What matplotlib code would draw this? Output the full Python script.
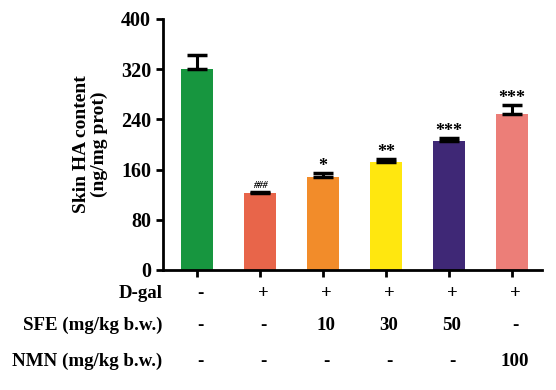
import matplotlib.pyplot as plt

# data
groups = ['Control', 'Model', 'SFE10', 'SFE30', 'SFE50', 'NMN100']
means = [320, 122, 148, 172, 206, 249]
errs = [22, 3, 7, 4, 4, 13]
marks = ['', '###', '*', '**', '***', '***']
colors = ['#17963F', '#E8654A', '#F28C2A', '#FFE70F', '#3F2876', '#EC7E78']

row_names = ['D-gal', 'SFE (mg/kg b.w.)', 'NMN (mg/kg b.w.)']
rows = [['-', '+', '+', '+', '+', '+'],
        ['-', '-', '10', '30', '50', '-'],
        ['-', '-', '-', '-', '-', '100']]

plt.rcParams['font.family'] = ['Liberation Serif', 'DejaVu Serif']
plt.rcParams['font.weight'] = 'bold'

fig = plt.figure(figsize=(5.56, 3.9), dpi=100)
ax = fig.add_axes([0.293, 0.3077, 0.682, 0.644])

x = list(range(len(groups)))
ax.bar(x, means, width=0.5, color=colors)
ax.errorbar(x, means, yerr=[[0] * len(errs), errs], fmt='none',
            ecolor='black', elinewidth=2.2, capsize=7, capthick=2.5)

for i in x:
    top = means[i] + errs[i]
    if marks[i] == '###':
        ax.text(i, top + 2, marks[i], ha='center', va='bottom', fontsize=7,
                style='italic')
    elif marks[i]:
        ax.text(i, top - 3, marks[i], ha='center', va='bottom', fontsize=13)

ax.set_xlim(-0.54, 5.48)
ax.set_ylim(0, 400)
ax.set_yticks([0, 80, 160, 240, 320, 400])
ax.set_xticks(x)
ax.set_xticklabels([])
ax.spines['top'].set_visible(False)
ax.spines['right'].set_visible(False)
ax.spines['left'].set_linewidth(2)
ax.spines['bottom'].set_linewidth(2)
ax.tick_params(axis='both', direction='out', length=5, width=2, labelsize=14.5)
ax.set_ylabel('Skin HA content\n(ng/mg prot)', fontsize=14, fontweight='bold',
              labelpad=9, linespacing=1.1)

tr = ax.get_xaxis_transform()
row_y = [-0.094, -0.222, -0.363]
for name, vals, yy in zip(row_names, rows, row_y):
    ax.text(-0.55, yy, name, transform=tr, ha='right', va='center',
            fontsize=13.6, fontweight='bold')
    for i, v in enumerate(vals):
        ax.text(i + 0.05, yy, v, transform=tr, ha='center', va='center',
                fontsize=13.6, fontweight='bold')

plt.savefig('out.png', dpi=100)
